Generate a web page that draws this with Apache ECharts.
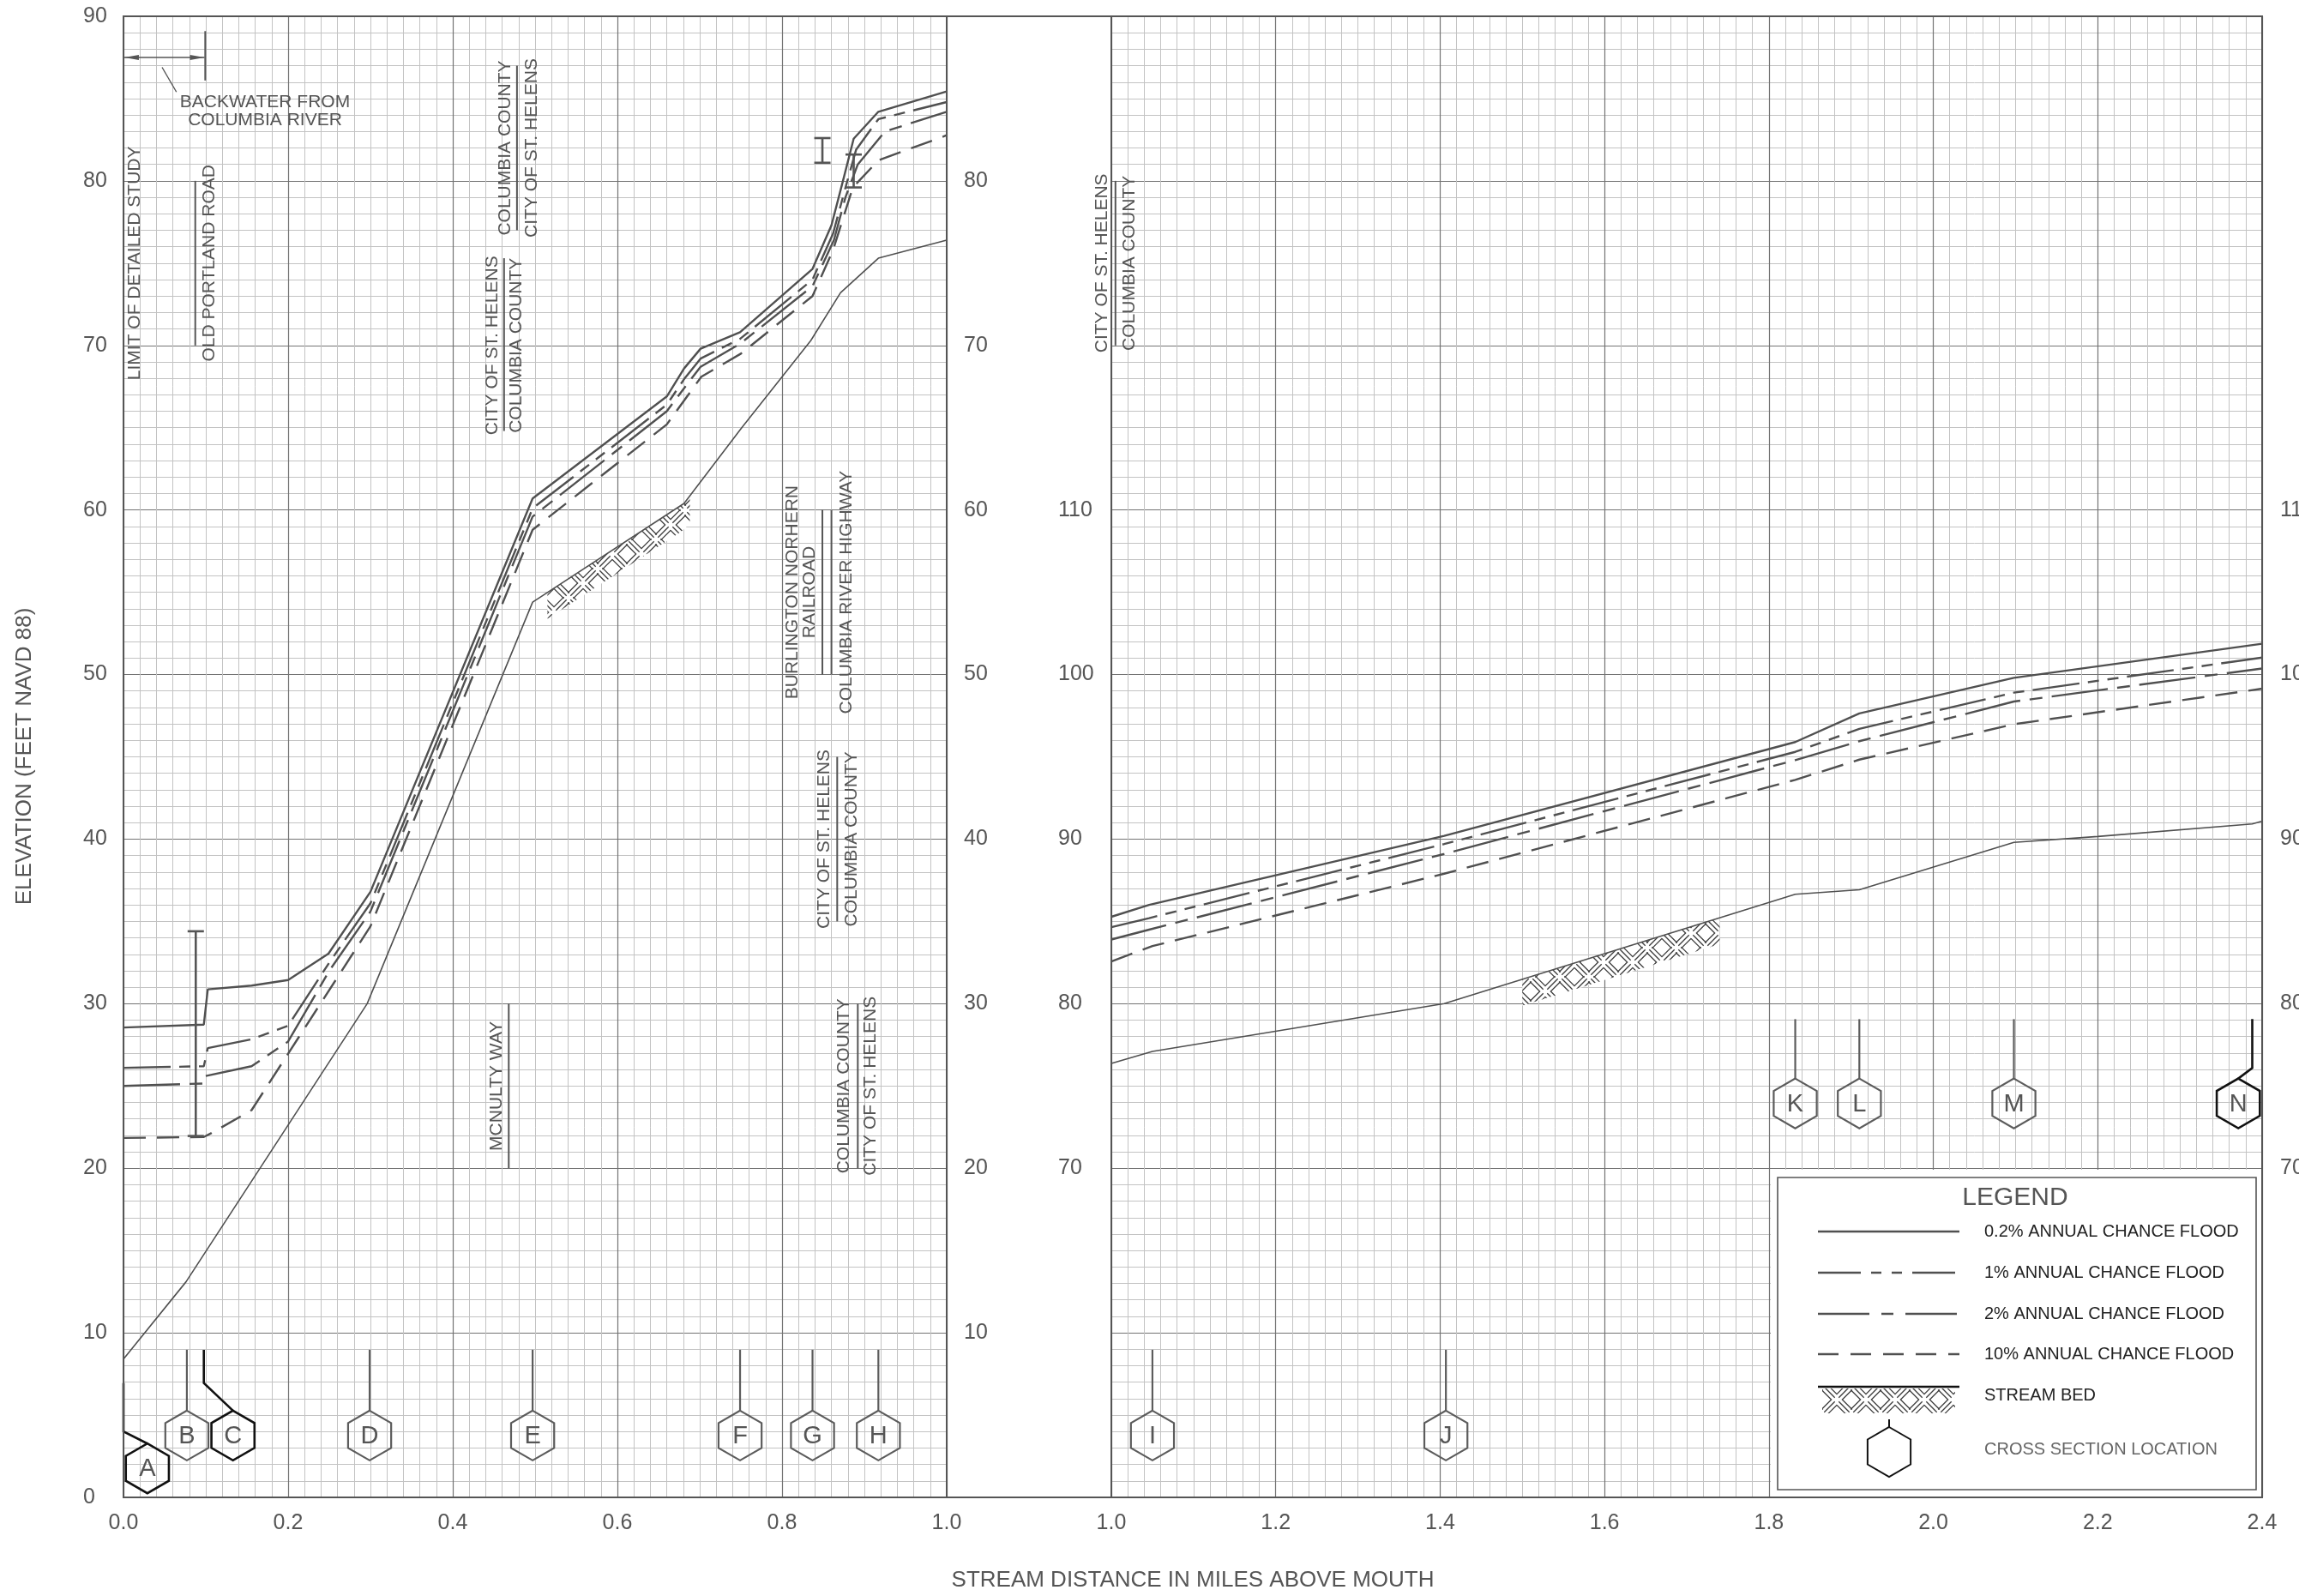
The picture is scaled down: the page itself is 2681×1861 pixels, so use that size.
<!DOCTYPE html>
<html><head><meta charset="utf-8">
<script src="https://cdn.jsdelivr.net/npm/echarts/dist/echarts.min.js"></script>
<style>html,body{margin:0;padding:0;background:#fff;}#c{width:2681px;height:1861px;}</style>
</head><body><div id="c"></div>
<script>
// ================= DATA =================
// Left panel (0.0 - 1.0 mile), elevation ft
const flood02L = [[0,28.55],[0.0976,28.73],[0.1024,30.87],[0.1556,31.1],[0.2,31.44],[0.249,33.04],[0.3,36.8],[0.497,60.7],[0.66,66.9],[0.681,68.6],[0.701,69.8],[0.749,70.8],[0.837,74.65],[0.86,77.3],[0.874,80.0],[0.887,82.56],[0.917,84.2],[1.0,85.43]];
const flood1L = [[0,26.1],[0.0976,26.2],[0.1024,27.3],[0.1556,27.84],[0.2,28.66],[0.25,32.5],[0.3,36.1],[0.497,60.1],[0.66,66.4],[0.681,67.95],[0.701,69.2],[0.749,70.4],[0.837,74.0],[0.862,76.8],[0.876,79.4],[0.89,81.9],[0.917,83.75],[1.0,84.79]];
const flood2L = [[0,25.0],[0.0976,25.15],[0.0995,25.6],[0.1556,26.2],[0.2,27.7],[0.25,32.0],[0.3,35.6],[0.497,59.6],[0.66,66.0],[0.681,67.4],[0.701,68.7],[0.749,70.1],[0.837,73.6],[0.863,76.4],[0.877,79.0],[0.892,81.0],[0.925,83.0],[1.0,84.2]];
const flood10L = [[0,21.84],[0.0976,21.9],[0.107,22.14],[0.1556,23.53],[0.3,34.7],[0.497,58.8],[0.66,65.2],[0.702,68.1],[0.75,69.5],[0.837,73.0],[0.862,75.8],[0.886,79.6],[0.917,81.25],[1.0,82.77]];
const bedL = [[0,8.4],[0.076,13.1],[0.296,30.0],[0.497,54.4],[0.681,60.4],[0.751,65.0],[0.835,70.3],[0.871,73.2],[0.917,75.3],[1.0,76.4]];
// Right panel (1.0 - 2.4 mile)
const flood02R = [[1.0,85.28],[1.046,86.0],[1.405,90.2],[1.832,95.9],[1.91,97.64],[2.098,99.8],[2.4,101.87]];
const flood1R = [[1.0,84.65],[1.046,85.2],[1.405,89.7],[1.832,95.3],[1.91,96.7],[2.098,98.9],[2.4,101.03]];
const flood2R = [[1.0,83.9],[1.046,84.5],[1.405,89.1],[1.832,94.8],[1.91,95.95],[2.098,98.36],[2.4,100.37]];
const flood10R = [[1.0,82.57],[1.05,83.5],[1.405,87.9],[1.832,93.6],[1.91,94.83],[2.098,96.98],[2.4,99.14]];
const bedR = [[1.0,76.37],[1.05,77.1],[1.405,80.0],[1.832,86.65],[1.91,86.92],[2.098,89.8],[2.2,90.16],[2.388,90.92],[2.4,91.09]];
// stream-bed hatch extents (miles)
const hatchL = [[0.515,0.688]];
const hatchR = [[1.5,1.74]];
// cross sections
const xsLettersL = ['A','B','C','D','E','F','G','H'];
const xsMilesL = [0.029,0.077,0.133,0.299,0.497,0.749,0.837,0.917];
const xsHexFtL = [1.76,3.76,3.76,3.76,3.76,3.76,3.76,3.76];
const xsLeadersL = [[[0,6.95],[0,4.0]],[[0.077,8.97]],[[0.0976,8.97],[0.0976,6.95]],[[0.299,8.97]],[[0.497,8.97]],[[0.749,8.97]],[[0.837,8.97]],[[0.917,8.97]]];
const xsBoldL = [1,0,1,0,0,0,0,0];
const xsLettersR = ['I','J','K','L','M','N'];
const xsMilesR = [1.05,1.407,1.832,1.91,2.098,2.371];
const xsHexFtR = [53.76,53.76,73.94,73.94,73.94,73.94];
const xsLeadersR = [[[1.05,58.97]],[[1.407,58.97]],[[1.832,79.06]],[[1.91,79.06]],[[2.098,79.06]],[[2.388,79.06],[2.388,76.09]]];
const xsBoldR = [0,0,0,0,0,1];
// hydraulic structures (mile, low ft, high ft)
const structuresL = [[0.0878,21.96,34.4],[0.849,81.1,82.6],[0.887,79.6,81.6]];
// boundary / road reference lines (mile, low ft, high ft)
const refLinesL = [[0,70,80],[0.0872,70,80],[0.478,77,87],[0.4623,64.8,75.3],[0.468,20,30],[0.849,50,60],[0.860,50,60],[0.867,35,45],[0.892,20,30],[0.0993,86.1,89.1]];
const refLinesR = [[1.005,120,130]];
// vertical annotations
const notesL = ['LIMIT OF DETAILED STUDY','OLD PORTLAND ROAD','COLUMBIA COUNTY','CITY OF ST. HELENS','CITY OF ST. HELENS','COLUMBIA COUNTY','MCNULTY WAY','BURLINGTON NORHERN','RAILROAD','COLUMBIA RIVER HIGHWAY','CITY OF ST. HELENS','COLUMBIA COUNTY','COLUMBIA COUNTY','CITY OF ST. HELENS'];
const notesAtL = [[0.0141,75],[0.1047,75],[0.4635,82],[0.4964,82],[0.448,70],[0.4776,70],[0.453,25],[0.8125,55],[0.834,55],[0.878,55],[0.8516,40],[0.885,40],[0.875,25],[0.908,25]];
const notesR = ['CITY OF ST. HELENS','COLUMBIA COUNTY'];
const notesAtR = [[0.989,125],[1.0224,125]];
// backwater note
const backwaterText = ['BACKWATER FROM','COLUMBIA RIVER'];
const backwaterAt = [[0.1719,84.8],[0.1719,83.69]];
const backwaterArrow = [[0.001,0.0985,87.5]];
const backwaterLeader = [[0.0469,86.9],[0.0643,85.4]];
// axis texts
const xTitle = 'STREAM DISTANCE IN MILES ABOVE MOUTH';
const yTitle = 'ELEVATION (FEET NAVD 88)';
const legendTitle = 'LEGEND';
const legendLabels = ['0.2% ANNUAL CHANCE FLOOD','1% ANNUAL CHANCE FLOOD','2% ANNUAL CHANCE FLOOD','10% ANNUAL CHANCE FLOOD','STREAM BED','CROSS SECTION LOCATION'];

// ================= STYLE / LAYOUT =================
const FONT = '"Liberation Sans", Arial, sans-serif';
const INK = '#505050';
const DASH1 = [55,10,13,10,13,10];
const DASH2 = [66,11,15,11];
const DASH10 = [26,13];
const HATCH_FT = 1.6;
const HEX_R = 29;
const G0 = {left:144, top:19, width:960, height:1727, containLabel:false, outerBoundsMode:'none'};
const G1 = {left:1296, top:19, width:1342, height:1727, containLabel:false, outerBoundsMode:'none'};

function interp(arr, x){
  for (let i=0;i<arr.length-1;i++){
    const a=arr[i], b=arr[i+1];
    if (x>=a[0] && x<=b[0]) return a[1]+(b[1]-a[1])*(x-a[0])/(b[0]-a[0]);
  }
  return arr[arr.length-1][1];
}
function makeHatch(){
  const s=17, n=34;
  const cv=document.createElement('canvas'); cv.width=n; cv.height=n;
  const g=cv.getContext('2d');
  g.fillStyle='#fff'; g.fillRect(0,0,n,n);
  g.strokeStyle='#3c3c3c'; g.lineWidth=1.3; g.lineCap='butt';
  // basket weave: each block holds three short parallel strokes, neighbours perpendicular
  [[0,0,1],[s,0,-1],[0,s,-1],[s,s,1]].forEach(([x0,y0,d])=>{
    const cx=x0+s/2, cy=y0+s/2, h=6.2;
    [-4.5,0,4.5].forEach(o=>{
      g.beginPath();
      if(d>0){
        const ox=o*0.7071, oy=-o*0.7071;
        g.moveTo(cx+ox-h, cy+oy-h); g.lineTo(cx+ox+h, cy+oy+h);
      } else {
        const ox=o*0.7071, oy=o*0.7071;
        g.moveTo(cx+ox-h, cy+oy+h); g.lineTo(cx+ox+h, cy+oy-h);
      }
      g.stroke();
    });
  });
  return cv;
}
const hatchFill = {image: makeHatch(), repeat:'repeat'};

function lineSeries(data, xi, yi, dash, width){
  return {type:'line', xAxisIndex:xi, yAxisIndex:yi, data:data, symbol:'none', silent:true, z:5,
    lineStyle:{color:INK, width:width, type:dash}};
}
function hatchSeries(ranges, bed, xi, yi){
  return {type:'custom', xAxisIndex:xi, yAxisIndex:yi, clip:false, silent:true, z:4,
    data: ranges.map(r=>[r[0], interp(bed,r[0])]),
    renderItem:(params, api)=>{
      const [x0,x1]=ranges[params.dataIndex];
      const top=[], bot=[]; const N=30;
      for(let k=0;k<=N;k++){const x=x0+(x1-x0)*k/N; const y=interp(bed,x);
        top.push(api.coord([x,y])); bot.push(api.coord([x,y-HATCH_FT]));}
      return {type:'polygon', shape:{points: top.concat(bot.reverse())}, style:{fill:hatchFill, stroke:null}};
    }};
}
function xsSeries(letters, miles, hexFt, leaders, bold, xi, yi){
  return {type:'custom', xAxisIndex:xi, yAxisIndex:yi, clip:false, silent:true, z:6,
    data: miles.map((m,i)=>[m, hexFt[i]]),
    renderItem:(params, api)=>{
      const i=params.dataIndex;
      const c=api.coord([miles[i], hexFt[i]]);
      const col = bold[i] ? '#111' : '#5c5c5c';
      const lw = bold[i] ? 2.6 : 2.2;
      const pts = leaders[i].map(p=>api.coord(p)); pts.push([c[0], c[1]-HEX_R]);
      const hex=[]; for(let k=0;k<6;k++){const a=-Math.PI/2+k*Math.PI/3; hex.push([c[0]+HEX_R*Math.cos(a), c[1]+HEX_R*Math.sin(a)]);}
      return {type:'group', children:[
        {type:'polyline', shape:{points:pts}, style:{stroke:col, lineWidth:lw, fill:'none'}},
        {type:'polygon', shape:{points:hex}, style:{stroke:col, lineWidth:lw, fill:'none'}},
        {type:'text', x:c[0], y:c[1]+1, style:{text:letters[i], font:'29px '+FONT, fill:'#555', align:'center', verticalAlign:'middle'}}
      ]};
    }};
}
function vlineSeries(arr, cap, width, xi, yi){
  return {type:'custom', xAxisIndex:xi, yAxisIndex:yi, clip:false, silent:true, z:6,
    data: arr.map(d=>[d[0], d[2]]),
    renderItem:(params, api)=>{
      const d=arr[params.dataIndex];
      const a=api.coord([d[0],d[1]]), b=api.coord([d[0],d[2]]);
      const ch=[{type:'line', shape:{x1:a[0],y1:a[1],x2:b[0],y2:b[1]}, style:{stroke:'#555', lineWidth:width}}];
      if(cap>0){
        ch.push({type:'line', shape:{x1:a[0]-cap,y1:a[1],x2:a[0]+cap,y2:a[1]}, style:{stroke:'#555', lineWidth:width}});
        ch.push({type:'line', shape:{x1:b[0]-cap,y1:b[1],x2:b[0]+cap,y2:b[1]}, style:{stroke:'#555', lineWidth:width}});
      }
      return {type:'group', children:ch};
    }};
}
function noteSeries(texts, at, rotated, xi, yi){
  return {type:'custom', xAxisIndex:xi, yAxisIndex:yi, clip:false, silent:true, z:6,
    data: at,
    renderItem:(params, api)=>{
      const p=api.coord(at[params.dataIndex]);
      return {type:'text', x:p[0], y:p[1], rotation: rotated? Math.PI/2 : 0,
        style:{text:texts[params.dataIndex], font:'21px '+FONT, fill:'#555', align:'center', verticalAlign:'middle'}};
    }};
}
const arrowSeries = {type:'custom', xAxisIndex:0, yAxisIndex:0, clip:false, silent:true, z:6,
  data: backwaterArrow.map(d=>[d[0], d[2]]),
  renderItem:(params, api)=>{
    const d=backwaterArrow[params.dataIndex];
    const a=api.coord([d[0],d[2]]), b=api.coord([d[1],d[2]]);
    const l1=api.coord(backwaterLeader[0]), l2=api.coord(backwaterLeader[1]);
    const L=17, W=3;
    return {type:'group', children:[
      {type:'line', shape:{x1:a[0],y1:a[1],x2:b[0],y2:b[1]}, style:{stroke:'#555', lineWidth:1.6}},
      {type:'polygon', shape:{points:[[a[0],a[1]],[a[0]+L,a[1]-W],[a[0]+L,a[1]+W]]}, style:{fill:'#555'}},
      {type:'polygon', shape:{points:[[b[0],b[1]],[b[0]-L,b[1]-W],[b[0]-L,b[1]+W]]}, style:{fill:'#555'}},
      {type:'line', shape:{x1:l1[0],y1:l1[1],x2:l2[0],y2:l2[1]}, style:{stroke:'#555', lineWidth:1.4}}
    ]};
  }};

const labelBase = {color:'#555', fontSize:25, fontFamily:FONT};
const majorLine = {show:true, lineStyle:{color:'#737373', width:1.2}};
const minorLine = {show:true, lineStyle:{color:'#c3c3c3', width:1}};
const fmt1 = v=>v.toFixed(1);
const only = (lo,hi)=> v => (v>=lo && v<=hi) ? String(Math.round(v)) : '';

// legend graphics
const LX=2073, LY=1373, LW=558, LH=364;
const rowY=[1436,1484,1532,1579,1627,1690];
const sx1=2120, sx2=2285, tx=2314;
const legendG = [
  {type:'rect', z:100, shape:{x:2065,y:1364,width:572,height:381}, style:{fill:'#fff'}},
  {type:'rect', z:101, shape:{x:LX,y:LY,width:LW,height:LH}, style:{fill:'none', stroke:'#555', lineWidth:1.6}},
  {type:'text', z:101, x:2350, y:1397, style:{text:legendTitle, font:'30px '+FONT, fill:'#555', align:'center', verticalAlign:'middle'}},
  {type:'line', z:101, shape:{x1:sx1,y1:rowY[0],x2:sx2,y2:rowY[0]}, style:{stroke:INK, lineWidth:2.5}},
  {type:'line', z:101, shape:{x1:sx1,y1:rowY[1],x2:sx2,y2:rowY[1]}, style:{stroke:INK, lineWidth:2.5, lineDash:[50,12,12,12,12,12]}},
  {type:'line', z:101, shape:{x1:sx1,y1:rowY[2],x2:sx2,y2:rowY[2]}, style:{stroke:INK, lineWidth:2.5, lineDash:[60,14,14,14]}},
  {type:'line', z:101, shape:{x1:sx1,y1:rowY[3],x2:sx2,y2:rowY[3]}, style:{stroke:INK, lineWidth:2.5, lineDash:[24,14]}},
  {type:'rect', z:101, shape:{x:sx1+5,y:1619,width:sx2-sx1-10,height:29}, style:{fill:hatchFill}},
  {type:'line', z:102, shape:{x1:sx1,y1:1617,x2:sx2,y2:1617}, style:{stroke:'#111', lineWidth:2.5}},
  {type:'line', z:101, shape:{x1:2203,y1:1655,x2:2203,y2:1664}, style:{stroke:'#111', lineWidth:2}},
  {type:'polygon', z:101, shape:{points:[0,1,2,3,4,5].map(k=>{const a=-Math.PI/2+k*Math.PI/3; return [2203+HEX_R*Math.cos(a), 1693+HEX_R*Math.sin(a)];})}, style:{fill:'none', stroke:'#111', lineWidth:2}}
].concat(legendLabels.map((t,i)=>({type:'text', z:101, x:tx, y:rowY[i], style:{text:t, font:'20px '+FONT, fill: i===5?'#666':'#222', align:'left', verticalAlign:'middle'}})));

const frameG = [
  {type:'rect', z:90, shape:{x:144,y:19,width:2494,height:1727}, style:{fill:'none', stroke:'#555', lineWidth:2}},
  {type:'line', z:90, shape:{x1:1104,y1:19,x2:1104,y2:1746}, style:{stroke:'#555', lineWidth:2}},
  {type:'line', z:90, shape:{x1:1296,y1:19,x2:1296,y2:1746}, style:{stroke:'#555', lineWidth:2}},
  {type:'text', z:90, x:1391, y:1843, style:{text:xTitle, font:'26px '+FONT, fill:'#555', align:'center', verticalAlign:'middle'}},
  {type:'text', z:90, x:29, y:882, rotation:Math.PI/2, style:{text:yTitle, font:'26px '+FONT, fill:'#555', align:'center', verticalAlign:'middle'}}
];

const chart = echarts.init(document.getElementById('c'), null, {renderer:'canvas'});
chart.setOption({
  animation:false,
  backgroundColor:'#fff',
  textStyle:{fontFamily:FONT},
  grid:[G0, G1],
  xAxis:[
    {gridIndex:0, type:'value', min:0, max:1, interval:0.2, axisLine:{show:false}, axisTick:{show:false},
     axisLabel:Object.assign({}, labelBase, {margin:18, formatter:fmt1}), splitLine:majorLine,
     minorTick:{show:false, splitNumber:10}, minorSplitLine:minorLine},
    {gridIndex:1, type:'value', min:1, max:2.4, interval:0.2, axisLine:{show:false}, axisTick:{show:false},
     axisLabel:Object.assign({}, labelBase, {margin:18, formatter:fmt1}), splitLine:majorLine,
     minorTick:{show:false, splitNumber:10}, minorSplitLine:minorLine}
  ],
  yAxis:[
    {gridIndex:0, type:'value', position:'left', min:0, max:90, interval:10, axisLine:{show:false}, axisTick:{show:false},
     axisLabel:Object.assign({}, labelBase, {margin:47, align:'left'}), splitLine:majorLine,
     minorTick:{show:false, splitNumber:10}, minorSplitLine:minorLine},
    {gridIndex:0, type:'value', position:'right', min:0, max:90, interval:10, axisLine:{show:false}, axisTick:{show:false},
     axisLabel:Object.assign({}, labelBase, {margin:20, align:'left', formatter:only(10,80)}), splitLine:{show:false}},
    {gridIndex:1, type:'value', position:'left', min:50, max:140, interval:10, axisLine:{show:false}, axisTick:{show:false},
     axisLabel:Object.assign({}, labelBase, {margin:62, align:'left', formatter:only(70,110)}), splitLine:majorLine,
     minorTick:{show:false, splitNumber:10}, minorSplitLine:minorLine},
    {gridIndex:1, type:'value', position:'right', min:50, max:140, interval:10, axisLine:{show:false}, axisTick:{show:false},
     axisLabel:Object.assign({}, labelBase, {margin:21, align:'left', formatter:only(70,110)}), splitLine:{show:false}}
  ],
  graphic: frameG.concat(legendG),
  series:[
    hatchSeries(hatchL, bedL, 0, 0),
    lineSeries(bedL, 0, 0, 'solid', 1.6),
    lineSeries(flood10L, 0, 0, DASH10, 2.4),
    lineSeries(flood2L, 0, 0, DASH2, 2.4),
    lineSeries(flood1L, 0, 0, DASH1, 2.4),
    lineSeries(flood02L, 0, 0, 'solid', 2.4),
    hatchSeries(hatchR, bedR, 1, 2),
    lineSeries(bedR, 1, 2, 'solid', 1.6),
    lineSeries(flood10R, 1, 2, DASH10, 2.4),
    lineSeries(flood2R, 1, 2, DASH2, 2.4),
    lineSeries(flood1R, 1, 2, DASH1, 2.4),
    lineSeries(flood02R, 1, 2, 'solid', 2.4),
    xsSeries(xsLettersL, xsMilesL, xsHexFtL, xsLeadersL, xsBoldL, 0, 0),
    xsSeries(xsLettersR, xsMilesR, xsHexFtR, xsLeadersR, xsBoldR, 1, 2),
    vlineSeries(structuresL, 9.5, 2.6, 0, 0),
    vlineSeries(refLinesL, 0, 2, 0, 0),
    vlineSeries(refLinesR, 0, 2, 1, 2),
    noteSeries(notesL, notesAtL, true, 0, 0),
    noteSeries(notesR, notesAtR, true, 1, 2),
    noteSeries(backwaterText, backwaterAt, false, 0, 0),
    arrowSeries
  ]
});
</script></body></html>
